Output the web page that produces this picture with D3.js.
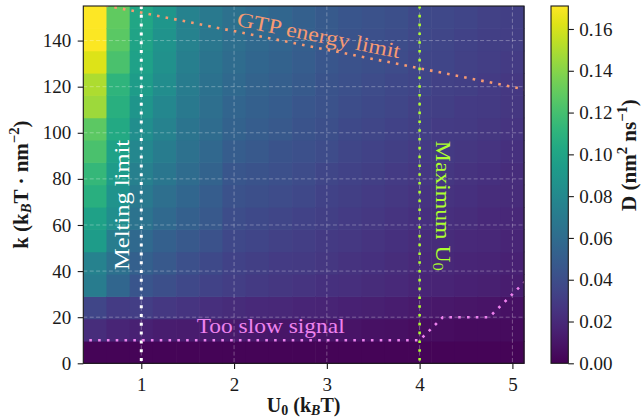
<!DOCTYPE html>
<html>
<head>
<meta charset="utf-8">
<script src="https://cdn.jsdelivr.net/npm/d3@7"></script>
<style>
  body { margin: 0; background: #fff; }
  svg { display: block; font-family: 'Liberation Serif', 'DejaVu Serif', serif; }
</style>
</head>
<body>
<div id="chart"></div>
<script>
// U0 grid (kBT) and k grid (kBT / nm^2)
const U_VALUES = [0.5, 0.75, 1.0, 1.25, 1.5, 1.75, 2.0, 2.25, 2.5, 2.75, 3.0, 3.25, 3.5, 3.75, 4.0, 4.25, 4.5, 4.75, 5.0];
const K_VALUES = [0, 10, 20, 30, 40, 50, 60, 70, 80, 90, 100, 110, 120, 130, 140, 150];
const K_EXTENT = [0, 155];

// D (nm^2/ns), one column per U0, from low k to high k
const D_BY_U = [
    [0.002, 0.022, 0.036, 0.071, 0.075, 0.094, 0.098, 0.108, 0.114, 0.122, 0.128, 0.146, 0.150, 0.162, 0.170, 0.171],
    [0.002, 0.018, 0.030, 0.056, 0.063, 0.072, 0.084, 0.088, 0.093, 0.098, 0.103, 0.108, 0.111, 0.122, 0.127, 0.129],
    [0.002, 0.016, 0.031, 0.045, 0.052, 0.058, 0.065, 0.069, 0.074, 0.079, 0.084, 0.089, 0.094, 0.097, 0.099, 0.101],
    [0.002, 0.014, 0.028, 0.041, 0.047, 0.052, 0.058, 0.062, 0.067, 0.071, 0.075, 0.079, 0.083, 0.086, 0.088, 0.090],
    [0.002, 0.013, 0.026, 0.037, 0.042, 0.047, 0.052, 0.056, 0.060, 0.063, 0.066, 0.069, 0.071, 0.073, 0.075, 0.076],
    [0.002, 0.012, 0.023, 0.034, 0.038, 0.043, 0.047, 0.050, 0.054, 0.057, 0.060, 0.062, 0.064, 0.066, 0.068, 0.069],
    [0.002, 0.012, 0.021, 0.031, 0.034, 0.037, 0.040, 0.043, 0.046, 0.050, 0.053, 0.055, 0.058, 0.060, 0.062, 0.063],
    [0.002, 0.011, 0.020, 0.029, 0.032, 0.035, 0.038, 0.041, 0.044, 0.047, 0.050, 0.052, 0.054, 0.056, 0.058, 0.059],
    [0.002, 0.010, 0.019, 0.027, 0.030, 0.033, 0.036, 0.039, 0.042, 0.044, 0.047, 0.049, 0.051, 0.053, 0.055, 0.056],
    [0.002, 0.010, 0.018, 0.026, 0.029, 0.031, 0.034, 0.037, 0.039, 0.042, 0.044, 0.046, 0.048, 0.050, 0.051, 0.052],
    [0.002, 0.009, 0.017, 0.024, 0.027, 0.029, 0.032, 0.034, 0.036, 0.039, 0.041, 0.043, 0.044, 0.046, 0.047, 0.048],
    [0.002, 0.009, 0.016, 0.023, 0.025, 0.028, 0.030, 0.032, 0.034, 0.036, 0.038, 0.040, 0.042, 0.043, 0.044, 0.045],
    [0.002, 0.008, 0.015, 0.021, 0.024, 0.026, 0.028, 0.030, 0.032, 0.034, 0.036, 0.038, 0.039, 0.041, 0.042, 0.043],
    [0.002, 0.007, 0.014, 0.020, 0.022, 0.024, 0.026, 0.028, 0.030, 0.032, 0.034, 0.036, 0.037, 0.039, 0.040, 0.041],
    [0.002, 0.006, 0.012, 0.018, 0.020, 0.022, 0.024, 0.026, 0.028, 0.030, 0.032, 0.033, 0.035, 0.036, 0.037, 0.038],
    [0.002, 0.006, 0.011, 0.017, 0.019, 0.021, 0.023, 0.025, 0.027, 0.029, 0.030, 0.032, 0.033, 0.035, 0.036, 0.037],
    [0.002, 0.005, 0.010, 0.016, 0.018, 0.020, 0.022, 0.024, 0.025, 0.027, 0.029, 0.030, 0.032, 0.033, 0.034, 0.035],
    [0.002, 0.005, 0.009, 0.015, 0.017, 0.019, 0.020, 0.022, 0.024, 0.026, 0.027, 0.029, 0.030, 0.031, 0.032, 0.033],
    [0.002, 0.005, 0.008, 0.014, 0.016, 0.018, 0.019, 0.021, 0.022, 0.024, 0.026, 0.027, 0.028, 0.030, 0.031, 0.032]
];
const D_MAX = 0.171;

const X_TICKS = [1, 2, 3, 4, 5];
const Y_TICKS = [0, 20, 40, 60, 80, 100, 120, 140];
const CBAR_TICKS = [0, 0.02, 0.04, 0.06, 0.08, 0.10, 0.12, 0.14, 0.16];

// limit lines
const MELT_U = 1;
const MAX_U = 4;
const GTP_U = [0.25, 5.25];
const GTP_K = [158.2, 117.9];
const SLOW_U = [0.25, 4.0, 4.25, 4.75, 5.0, 5.25];
const SLOW_K = [10, 10, 20, 20, 30, 40];

const width = 641, height = 419;
const plot = { left: 83.3, right: 524, top: 6, bottom: 363.3 };
const cbar = { left: 551, right: 568.3 };

const dU = U_VALUES[1] - U_VALUES[0];
const x = d3.scaleLinear()
    .domain([U_VALUES[0] - dU / 2, U_VALUES[U_VALUES.length - 1] + dU / 2])
    .range([plot.left, plot.right]);
const y = d3.scaleLinear().domain(K_EXTENT).range([plot.bottom, plot.top]);
const row = d3.scaleBand().domain(K_VALUES).range([y(K_EXTENT[0]), y(K_EXTENT[1])]);
const color = d3.scaleSequential(d3.interpolateViridis).domain([0, D_MAX]);
const cy = d3.scaleLinear().domain([0, D_MAX]).range([plot.bottom, plot.top]);

const svg = d3.select("#chart").append("svg")
    .attr("width", width)
    .attr("height", height);

svg.append("defs").append("clipPath").attr("id", "plotclip")
    .append("rect")
    .attr("x", plot.left).attr("y", plot.top)
    .attr("width", plot.right - plot.left).attr("height", plot.bottom - plot.top);

// heatmap cells
const cells = [];
U_VALUES.forEach((u, i) => K_VALUES.forEach((k, j) => cells.push({ u, k, d: D_BY_U[i][j] })));
const cellW = x(dU) - x(0);
svg.append("g")
    .selectAll("rect")
    .data(cells)
    .join("rect")
    .attr("x", d => x(d.u - dU / 2))
    .attr("y", d => row(d.k))
    .attr("width", cellW + 0.6)
    .attr("height", row.bandwidth() + 0.6)
    .attr("fill", d => color(d.d));

// dashed grid
const grid = svg.append("g")
    .attr("stroke", "rgba(255,255,255,0.3)")
    .attr("stroke-width", 1)
    .attr("stroke-dasharray", "4,2.4");
grid.selectAll(".gx").data(X_TICKS).join("line")
    .attr("x1", d => x(d)).attr("x2", d => x(d))
    .attr("y1", plot.top).attr("y2", plot.bottom);
grid.selectAll(".gy").data(Y_TICKS.slice(1)).join("line")
    .attr("x1", plot.left).attr("x2", plot.right)
    .attr("y1", d => y(d)).attr("y2", d => y(d));

// limit lines
const lines = svg.append("g").attr("clip-path", "url(#plotclip)").attr("fill", "none");
const line = d3.line().x(d => x(d[0])).y(d => y(d[1]));

lines.append("path")
    .attr("d", line(GTP_U.map((u, i) => [u, GTP_K[i]])))
    .attr("stroke", "#f79a72").attr("stroke-width", 2.6)
    .attr("stroke-dasharray", "2.6,6.1");
lines.append("path")
    .attr("d", line([[MELT_U, K_EXTENT[1]], [MELT_U, K_EXTENT[0]]]))
    .attr("stroke", "#ffffff").attr("stroke-width", 3)
    .attr("stroke-dasharray", "3,5.8");
lines.append("path")
    .attr("d", line(SLOW_U.map((u, i) => [u, SLOW_K[i]])))
    .attr("stroke", "violet").attr("stroke-width", 2.6)
    .attr("stroke-dasharray", "2.6,6.2");
lines.append("path")
    .attr("d", line([[MAX_U, K_EXTENT[1]], [MAX_U, K_EXTENT[0]]]))
    .attr("stroke", "greenyellow").attr("stroke-width", 2.6)
    .attr("stroke-dasharray", "2.6,6.2");

// rich text helper: parts = [text, "sub"|"sup"|undefined, italic]
function richText(g, parts, size) {
    const t = g.append("text").attr("font-size", size);
    parts.forEach(([s, kind, it]) => {
        const ts = t.append("tspan").text(s);
        if (kind) ts.attr("font-size", size * 0.7)
            .attr("baseline-shift", kind === "sub" ? -size * 0.15 : size * 0.42);
        if (it) ts.attr("font-style", "italic");
    });
    return t;
}

// annotations
const gtpAngle = Math.atan2(y(GTP_K[1]) - y(GTP_K[0]), x(GTP_U[1]) - x(GTP_U[0])) * 180 / Math.PI;
svg.append("text")
    .attr("transform", `translate(${x(2.02)},${y(146.4)}) rotate(${gtpAngle})`)
    .attr("font-size", 21).attr("fill", "#f79a72")
    .attr("textLength", 166).attr("lengthAdjust", "spacingAndGlyphs")
    .text("GTP energy limit");

svg.append("text")
    .attr("transform", `translate(${x(0.872)},${y(68.7)}) rotate(-90)`)
    .attr("text-anchor", "middle")
    .attr("font-size", 21).attr("fill", "#ffffff")
    .attr("textLength", 130).attr("lengthAdjust", "spacingAndGlyphs")
    .text("Melting limit");

richText(svg.append("g")
    .attr("transform", `translate(${x(4.18)},${y(68.3)}) rotate(90)`),
    [["Maximum U"], ["0", "sub"]], 21)
    .attr("text-anchor", "middle").attr("fill", "greenyellow")
    .attr("textLength", 130).attr("lengthAdjust", "spacingAndGlyphs");

svg.append("text")
    .attr("x", x(1.597)).attr("y", y(13.0))
    .attr("font-size", 21).attr("fill", "violet")
    .attr("textLength", 148).attr("lengthAdjust", "spacingAndGlyphs")
    .text("Too slow signal");

// axes
const tickFont = 19;
const xAxis = svg.append("g")
    .attr("transform", `translate(0,${plot.bottom})`)
    .call(d3.axisBottom(x).tickValues(X_TICKS).tickSize(5.6).tickPadding(8.3).tickFormat(d3.format("d")));
const yAxis = svg.append("g")
    .attr("transform", `translate(${plot.left},0)`)
    .call(d3.axisLeft(y).tickValues(Y_TICKS).tickSize(5.6).tickPadding(6.5).tickFormat(d3.format("d")));

// frame
svg.append("rect")
    .attr("x", plot.left).attr("y", plot.top)
    .attr("width", plot.right - plot.left).attr("height", plot.bottom - plot.top)
    .attr("fill", "none").attr("stroke", "#1a1a1a").attr("stroke-width", 1.1);

// colorbar
const grad = svg.select("defs").append("linearGradient")
    .attr("id", "viridis").attr("x1", 0).attr("y1", 1).attr("x2", 0).attr("y2", 0);
d3.range(0, 1.0001, 0.05).forEach(t => {
    grad.append("stop").attr("offset", t).attr("stop-color", d3.interpolateViridis(t));
});
svg.append("rect")
    .attr("x", cbar.left).attr("y", plot.top)
    .attr("width", cbar.right - cbar.left).attr("height", plot.bottom - plot.top)
    .attr("fill", "url(#viridis)")
    .attr("stroke", "#1a1a1a").attr("stroke-width", 1.1);
const cAxis = svg.append("g")
    .attr("transform", `translate(${cbar.right},0)`)
    .call(d3.axisRight(cy).tickValues(CBAR_TICKS).tickSize(5.6).tickPadding(5.4).tickFormat(d3.format(".2f")));

[xAxis, yAxis, cAxis].forEach(a => {
    a.select(".domain").remove();
    a.selectAll("line").attr("stroke", "#1a1a1a").attr("stroke-width", 1.1);
    a.selectAll("text").attr("font-size", tickFont).attr("fill", "#1a1a1a")
        .attr("font-family", "'Liberation Serif', serif");
});

// axis labels
richText(svg.append("g").attr("transform", `translate(${(plot.left + plot.right) / 2},412)`),
    [["U"], ["0", "sub"], [" (k"], ["B", "sub", true], ["T)"]], 20)
    .attr("text-anchor", "middle").attr("font-weight", "bold").attr("fill", "#1a1a1a");

richText(svg.append("g").attr("transform", `translate(28,${(plot.top + plot.bottom) / 2}) rotate(-90)`),
    [["k (k"], ["B", "sub", true], ["T · nm"], ["−2", "sup"], [")"]], 21)
    .attr("text-anchor", "middle").attr("font-weight", "bold").attr("fill", "#1a1a1a");

richText(svg.append("g").attr("transform", `translate(636,155) rotate(-90)`),
    [["D (nm"], ["2", "sup"], [" ns"], ["−1", "sup"], [")"]], 21)
    .attr("text-anchor", "middle").attr("font-weight", "bold").attr("fill", "#1a1a1a");
</script>
</body>
</html>
